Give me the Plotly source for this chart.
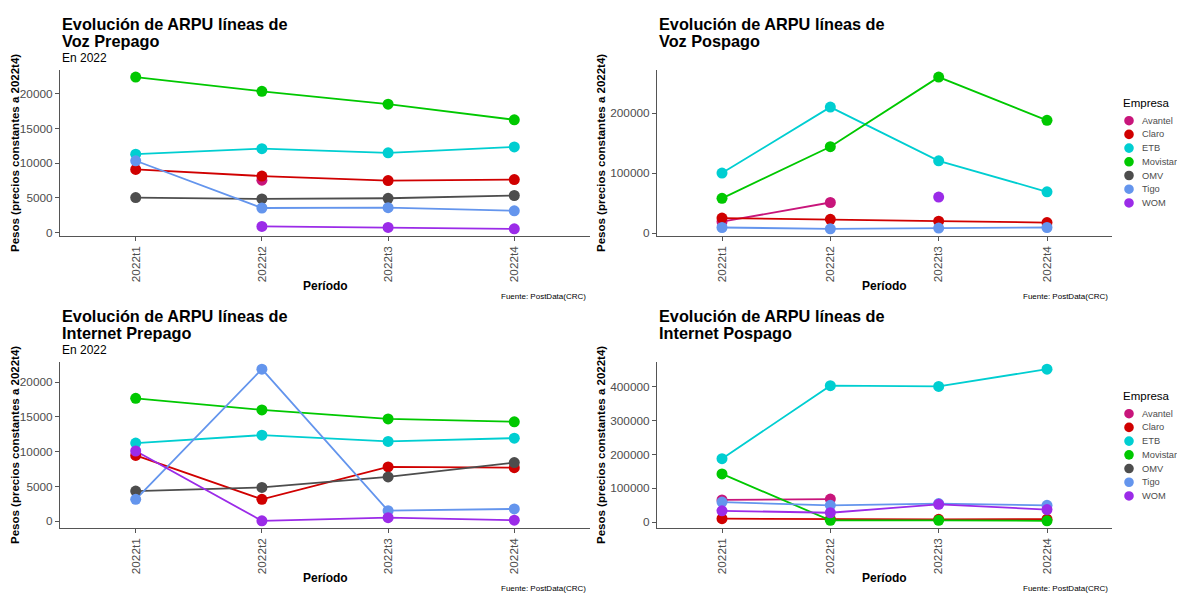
import plotly.graph_objects as go

W, H = 1177, 597

periodos = ["2022t1", "2022t2", "2022t3", "2022t4"]
empresas = ["Avantel", "Claro", "ETB", "Movistar", "OMV", "Tigo", "WOM"]
colores = ["#C8157B", "#D00000", "#00CED1", "#00C800", "#4D4D4D", "#6495ED", "#9B2BE8"]

# Voz Prepago
voz_prepago = {
    "Avantel": [None, 7550, None, None],
    "Claro": [9100, 8150, 7500, 7650],
    "ETB": [11300, 12100, 11500, 12350],
    "Movistar": [22400, 20350, 18500, 16250],
    "OMV": [5050, 4850, 4950, 5350],
    "Tigo": [10350, 3550, 3600, 3150],
    "WOM": [None, 900, 750, 550],
}
# Voz Pospago
voz_pospago = {
    "Avantel": [19000, 51000, None, None],
    "Claro": [25000, 23000, 19800, 17500],
    "ETB": [100000, 210000, 120500, 68800],
    "Movistar": [57900, 144000, 260000, 188000],
    "OMV": [None, None, None, None],
    "Tigo": [9300, 7100, 8300, 9300],
    "WOM": [None, None, 60000, None],
}
# Internet Prepago
internet_prepago = {
    "Avantel": [None, None, None, None],
    "Claro": [9450, 3150, 7800, 7700],
    "ETB": [11230, 12370, 11470, 11940],
    "Movistar": [17660, 16000, 14710, 14290],
    "OMV": [4330, 4860, 6370, 8430],
    "Tigo": [3140, 21860, 1510, 1760],
    "WOM": [10090, 50, 510, 140],
}
# Internet Pospago
internet_pospago = {
    "Avantel": [65500, 68000, None, None],
    "Claro": [9800, 8500, 8000, 8500],
    "ETB": [187500, 403500, 401500, 452500],
    "Movistar": [142500, 5000, 5000, 3500],
    "OMV": [None, None, None, None],
    "Tigo": [59000, 49500, 54500, 49500],
    "WOM": [33200, 27500, 52500, 36800],
}

titulos = [
    ("Evolución de ARPU líneas de", "Voz Prepago", "En 2022"),
    ("Evolución de ARPU líneas de", "Voz Pospago", None),
    ("Evolución de ARPU líneas de", "Internet Prepago", "En 2022"),
    ("Evolución de ARPU líneas de", "Internet Pospago", None),
]
ytitulo = "Pesos (precios constantes a 2022t4)"
xtitulo = "Período"
fuente = "Fuente: PostData(CRC)"
leyenda_titulo = "Empresa"

FONT = "Liberation Sans, Arial, sans-serif"
AX = "#555555"
TXT = "#4D4D4D"

# panel pixel boxes: (left, right, top, bottom)
boxes = [(60, 590, 70, 238), (657, 1112, 70, 238), (60, 590, 364, 532), (657, 1112, 364, 532)]
ytitle_x = [15, 601, 15, 601]
dticks = [5000, 100000, 5000, 100000]
datasets = [voz_prepago, voz_pospago, internet_prepago, internet_pospago]
legend_top = [None, 104, None, 399]

fig = go.Figure()
annotations = []
shapes = []

for i, (data, box) in enumerate(zip(datasets, boxes)):
    l, r, t, b = box
    xa = "x" if i == 0 else f"x{i+1}"
    ya = "y" if i == 0 else f"y{i+1}"
    vals = [v for s in data.values() for v in s if v is not None]
    lo, hi = min(vals), max(vals)
    pad = 0.05 * (hi - lo)
    axis_common = dict(showgrid=False, zeroline=False, showline=True, linecolor=AX, linewidth=1,
                       ticks="outside", ticklen=4, tickcolor=AX, tickwidth=1,
                       tickfont=dict(family=FONT, size=11.8, color=TXT))
    fig.update_layout(**{
        ("xaxis" if i == 0 else f"xaxis{i+1}"): dict(
            domain=[l / W, r / W], anchor=ya, type="category",
            categoryorder="array", categoryarray=periodos,
            range=[-0.6, 3.6], tickangle=-90, **axis_common),
        ("yaxis" if i == 0 else f"yaxis{i+1}"): dict(
            domain=[1 - b / H, 1 - t / H], anchor=xa,
            range=[lo - pad, hi + pad], dtick=dticks[i], tick0=0, tickformat="d",
            **axis_common),
    })
    # lines first
    for emp, col in zip(empresas, colores):
        fig.add_trace(go.Scatter(x=periodos, y=data[emp], mode="lines", xaxis=xa, yaxis=ya,
                                 line=dict(color=col, width=1.8), showlegend=False,
                                 connectgaps=False, hoverinfo="skip"))
    # points
    for emp, col in zip(empresas, colores):
        fig.add_trace(go.Scatter(x=periodos, y=data[emp], mode="markers", name=emp,
                                 xaxis=xa, yaxis=ya, showlegend=False,
                                 marker=dict(color=col, size=11, line=dict(width=0))))

    # titles
    t1, t2, sub = titulos[i]
    base = 0 if i < 2 else 294
    annotations.append(dict(text=f"<b>{t1}</b>", x=l / W, y=1 - (base + 24) / H, xref="paper", yref="paper",
                            xanchor="left", yanchor="middle", showarrow=False,
                            font=dict(family=FONT, size=16.3, color="black")))
    annotations.append(dict(text=f"<b>{t2}</b>", x=l / W, y=1 - (base + 41) / H, xref="paper", yref="paper",
                            xanchor="left", yanchor="middle", showarrow=False,
                            font=dict(family=FONT, size=16.3, color="black")))
    if sub:
        annotations.append(dict(text=sub, x=l / W, y=1 - (base + 58) / H, xref="paper", yref="paper",
                                xanchor="left", yanchor="middle", showarrow=False,
                                font=dict(family=FONT, size=12, color="black")))
    # y title
    annotations.append(dict(text=f"<b>{ytitulo}</b>", x=ytitle_x[i] / W,
                            y=1 - ((t + b) / 2) / H, xref="paper", yref="paper",
                            xanchor="center", yanchor="middle", textangle=-90, showarrow=False,
                            font=dict(family=FONT, size=11.5, color="black")))
    # x title
    annotations.append(dict(text=f"<b>{xtitulo}</b>", x=((l + r) / 2) / W, y=1 - (b + 50) / H,
                            xref="paper", yref="paper", xanchor="center", yanchor="middle",
                            showarrow=False, font=dict(family=FONT, size=12, color="black")))
    # caption
    annotations.append(dict(text=fuente, x=(r - 2) / W, y=1 - (b + 60) / H, xref="paper", yref="paper",
                            xanchor="right", yanchor="middle", showarrow=False,
                            font=dict(family=FONT, size=8, color="black")))

    # legend (right-hand panels)
    if legend_top[i] is not None:
        ty = legend_top[i]
        annotations.append(dict(text=leyenda_titulo, x=1121 / W, y=1 - ty / H, xref="paper", yref="paper",
                                xanchor="left", yanchor="middle", showarrow=False,
                                font=dict(family=FONT, size=11.5, color="black")))
        for k, (emp, col) in enumerate(zip(empresas, colores)):
            cy = 1 - (ty + 17.5 + 13.8 * k) / H
            shapes.append(dict(type="circle", xref="paper", yref="paper",
                               xsizemode="pixel", ysizemode="pixel",
                               xanchor=1129 / W, yanchor=cy,
                               x0=-4.8, x1=4.8, y0=-4.8, y1=4.8,
                               fillcolor=col, line=dict(width=0)))
            annotations.append(dict(text=emp, x=1140 / W, y=cy, xref="paper", yref="paper",
                                    xanchor="left", yanchor="middle", showarrow=False,
                                    font=dict(family=FONT, size=9.3, color=TXT)))

fig.update_layout(
    width=W, height=H, margin=dict(l=0, r=0, t=0, b=0),
    paper_bgcolor="white", plot_bgcolor="white",
    annotations=annotations, shapes=shapes, showlegend=False,
)

fig.write_html("out.html", config={"displayModeBar": False},
               post_script="document.body.style.margin='0';document.body.style.overflow='hidden';")
